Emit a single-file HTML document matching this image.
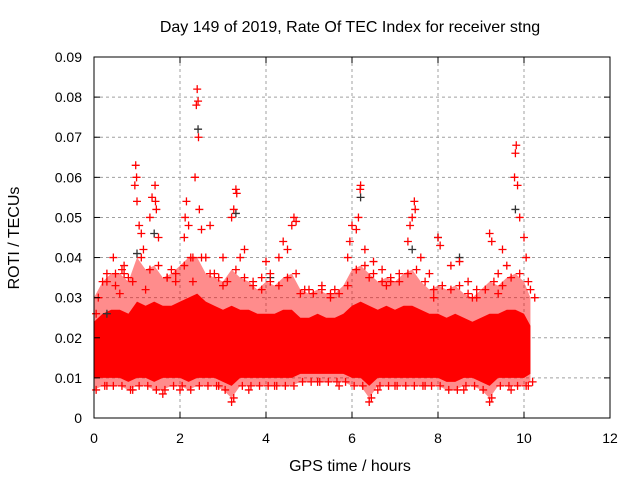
<!DOCTYPE html>
<html><head><meta charset="utf-8"><style>
html,body{margin:0;padding:0;background:#fff;}
svg{display:block;font-family:"Liberation Sans",sans-serif;}
</style></head><body>
<svg id="chart" width="640" height="480">
<text x="350" y="32" text-anchor="middle" font-size="16">Day 149 of 2019, Rate Of TEC Index for receiver stng</text>
<text x="19" y="238" text-anchor="middle" font-size="16" transform="rotate(-90 19 238)">ROTI / TECUs</text>
<text x="350" y="471" text-anchor="middle" font-size="16">GPS time / hours</text>
<g id="grid"></g><g id="band"></g><g id="pts"></g><g id="axes"></g>
</svg>
<script>
const xTicks=[0,2,4,6,8,10,12];
const yTicks=[0,0.01,0.02,0.03,0.04,0.05,0.06,0.07,0.08,0.09];
const bandT=[0,0.2,0.4,0.6,0.8,1.0,1.2,1.4,1.6,1.8,2.0,2.2,2.4,2.6,2.8,3.0,3.2,3.4,3.6,3.8,4.0,4.2,4.4,4.6,4.8,5.0,5.2,5.4,5.6,5.8,6.0,6.2,6.4,6.6,6.8,7.0,7.2,7.4,7.6,7.8,8.0,8.2,8.4,8.6,8.8,9.0,9.2,9.4,9.6,9.8,10.0,10.15];
const bandLo=[0.01,0.01,0.01,0.01,0.009,0.01,0.01,0.009,0.01,0.01,0.01,0.009,0.01,0.01,0.01,0.009,0.008,0.01,0.01,0.01,0.01,0.01,0.01,0.01,0.011,0.011,0.011,0.011,0.011,0.011,0.01,0.01,0.008,0.01,0.01,0.01,0.01,0.01,0.01,0.01,0.01,0.009,0.009,0.01,0.01,0.009,0.008,0.01,0.01,0.01,0.01,0.011];
const bandHi=[0.024,0.026,0.027,0.027,0.026,0.029,0.028,0.029,0.028,0.028,0.029,0.03,0.031,0.029,0.028,0.027,0.028,0.027,0.027,0.026,0.026,0.026,0.027,0.027,0.025,0.025,0.026,0.025,0.025,0.026,0.028,0.029,0.028,0.027,0.028,0.027,0.028,0.028,0.027,0.026,0.026,0.025,0.026,0.025,0.024,0.025,0.026,0.026,0.027,0.027,0.026,0.023];
const bandHi2=[0.03,0.034,0.036,0.036,0.034,0.04,0.037,0.038,0.035,0.036,0.038,0.04,0.04,0.036,0.035,0.034,0.037,0.035,0.034,0.032,0.034,0.033,0.035,0.036,0.032,0.031,0.032,0.031,0.031,0.033,0.037,0.038,0.036,0.034,0.035,0.034,0.036,0.037,0.034,0.032,0.033,0.032,0.033,0.031,0.03,0.032,0.034,0.033,0.035,0.036,0.034,0.03];
const bandLo2=[0.007,0.008,0.008,0.008,0.007,0.008,0.008,0.007,0.007,0.008,0.008,0.007,0.008,0.008,0.008,0.007,0.005,0.008,0.008,0.008,0.008,0.008,0.008,0.008,0.009,0.009,0.009,0.009,0.009,0.009,0.008,0.008,0.005,0.008,0.008,0.008,0.008,0.008,0.008,0.008,0.008,0.007,0.007,0.008,0.008,0.007,0.005,0.008,0.008,0.008,0.008,0.009];
const redT=[0.05,0.2,0.3,0.45,0.5,0.65,0.7,0.8,0.95,0.97,0.99,1.0,1.05,1.1,1.15,1.3,1.35,1.42,1.43,1.45,1.5,1.7,1.8,1.9,2.1,2.12,2.15,2.2,2.25,2.35,2.38,2.4,2.42,2.43,2.45,2.5,2.6,2.7,2.8,3.0,3.2,3.25,3.3,3.32,3.4,3.5,3.7,3.9,4.0,4.1,4.3,4.4,4.5,4.6,4.65,4.7,5.0,5.3,5.6,5.9,5.95,6.0,6.1,6.15,6.19,6.2,6.3,6.4,6.5,6.7,6.9,7.1,7.3,7.35,7.4,7.45,7.47,7.6,7.8,8.0,8.05,8.3,8.5,8.7,8.9,9.2,9.25,9.4,9.5,9.6,9.78,9.8,9.82,9.85,9.9,10.0,10.05,10.15,0.3,0.9,1.6,2.0,2.9,3.2,3.6,4.2,5.2,5.7,6.4,6.6,7.0,7.7,8.6,9.2,9.7,10.1,0.6,1.2,2.3,3.0,4.8,5.5,6.8,7.9,8.8,9.4];
const redV=[0.026,0.034,0.036,0.04,0.033,0.037,0.038,0.035,0.058,0.063,0.06,0.054,0.048,0.046,0.042,0.05,0.055,0.058,0.054,0.052,0.045,0.035,0.037,0.034,0.045,0.05,0.054,0.048,0.04,0.06,0.078,0.082,0.079,0.07,0.052,0.047,0.04,0.048,0.036,0.04,0.05,0.052,0.057,0.056,0.04,0.042,0.033,0.035,0.039,0.036,0.04,0.044,0.042,0.048,0.05,0.049,0.032,0.033,0.032,0.04,0.044,0.048,0.047,0.05,0.057,0.058,0.042,0.035,0.039,0.037,0.034,0.036,0.044,0.048,0.05,0.054,0.052,0.04,0.036,0.045,0.043,0.038,0.039,0.034,0.032,0.046,0.044,0.036,0.042,0.038,0.06,0.066,0.068,0.058,0.05,0.045,0.04,0.032,0.008,0.007,0.006,0.007,0.008,0.004,0.007,0.008,0.009,0.008,0.004,0.007,0.008,0.008,0.007,0.004,0.007,0.008,0.031,0.032,0.034,0.033,0.031,0.03,0.033,0.03,0.03,0.031];
const darkT=[0.3,1.0,1.4,2.42,3.3,4.1,6.2,7.4,8.0,8.5,9.8];
const darkV=[0.026,0.041,0.046,0.072,0.051,0.035,0.055,0.042,0.045,0.04,0.052];
const X0=94,X1=610,Y0=418,Y1=57;
const sx=t=>X0+(t/12)*(X1-X0);
const sy=v=>Y0-(v/0.09)*(Y0-Y1);
const NS="http://www.w3.org/2000/svg";
function mk(tag,parent,attrs){const e=document.createElementNS(NS,tag);for(const k in attrs)e.setAttribute(k,attrs[k]);document.getElementById(parent).appendChild(e);return e;}
xTicks.forEach(t=>{const x=sx(t);
if(t>0&&t<12){const g=mk('line','grid',{x1:x,x2:x,y1:Y1,y2:Y0,stroke:'#a0a0a0','stroke-dasharray':'3,3'});}
const l=mk('text','axes',{x:x,y:Y0+25,'text-anchor':'middle','font-size':'14'});l.textContent=t;
mk('line','axes',{x1:x,x2:x,y1:Y0,y2:Y0-6,stroke:'#000'});mk('line','axes',{x1:x,x2:x,y1:Y1,y2:Y1+6,stroke:'#000'});});
yTicks.forEach(v=>{const y=sy(v);
if(v>0&&v<0.09){const g=mk('line','grid',{x1:X0,x2:X1,y1:y,y2:y,stroke:'#a0a0a0','stroke-dasharray':'3,3'});}
const l=mk('text','axes',{x:X0-12,y:y+5,'text-anchor':'end','font-size':'14'});l.textContent=v===0?'0':v.toFixed(2);
mk('line','axes',{x1:X0,x2:X0+6,y1:y,y2:y,stroke:'#000'});mk('line','axes',{x1:X1,x2:X1-6,y1:y,y2:y,stroke:'#000'});});
const fr=mk('rect','axes',{x:X0,y:Y1,width:X1-X0,height:Y0-Y1,fill:'none',stroke:'#000'});


function bandPoly(hiArr,loArr,op,name){
let pts=bandT.map((t,i)=>sx(t)+','+sy(hiArr[i]));
for(let i=bandT.length-1;i>=0;i--)pts.push(sx(bandT[i])+','+sy(loArr[i]));
const b=mk('polygon','band',{points:pts.join(' '),fill:'#ff0000','fill-opacity':op});

}
bandPoly(bandHi2,bandLo2,0.45,'roti-sparse-band');
bandPoly(bandHi,bandLo,1,'roti-dense-band');
function plus(t,v,col,name){const x=sx(t),y=sy(v);
const p=mk('path','pts',{d:`M${x-4},${y}H${x+4}M${x},${y-4}V${y+4}`,stroke:col,'stroke-width':'1.3'});

}
darkT.forEach((t,i)=>plus(t,darkV[i],'#333','roti-point-dark'));
bandT.forEach((t,i)=>{plus(t+0.1,bandHi2[i],'#ff0000','roti-point');plus(t+0.05,bandLo2[i],'#ff0000','roti-point');});
redT.forEach((t,i)=>plus(t,redV[i],'#ff0000','roti-point'));
</script>
</body></html>
